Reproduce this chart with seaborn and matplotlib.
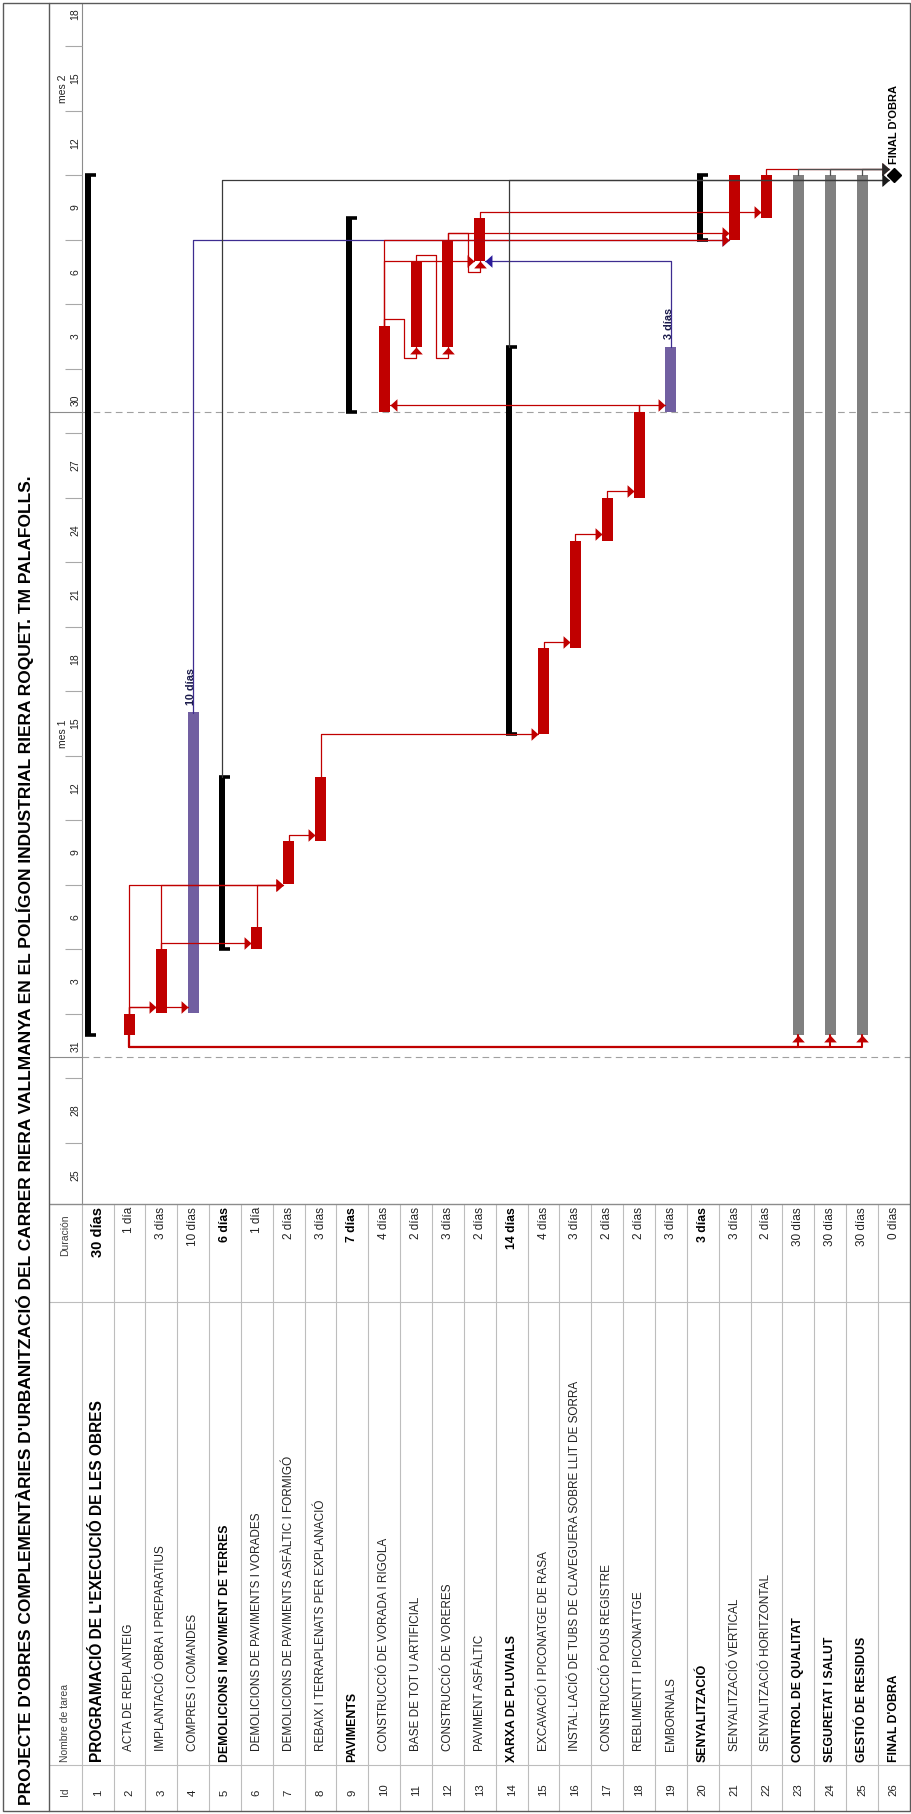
import numpy as np
import matplotlib
matplotlib.use("Agg")
import matplotlib.pyplot as plt
import seaborn as sns
from matplotlib.patches import Rectangle
from matplotlib.lines import Line2D

sns.set_theme(style="white")
plt.rcParams["font.family"] = ["Liberation Sans", "DejaVu Sans"]

# ---------------- data ----------------
TITLE = ("PROJECTE D'OBRES COMPLEMENTÀRIES D'URBANITZACIÓ DEL CARRER RIERA VALLMANYA "
         "EN EL POLÍGON INDUSTRIAL RIERA ROQUET. TM PALAFOLLS.")
ids = list(range(1, 27))
names = [
    "PROGRAMACIÓ DE L'EXECUCIÓ DE LES OBRES", "ACTA DE REPLANTEIG",
    "IMPLANTACIÓ OBRA I PREPARATIUS", "COMPRES I COMANDES",
    "DEMOLICIONS I MOVIMENT DE TERRES", "DEMOLICIONS DE PAVIMENTS I VORADES",
    "DEMOLICIONS DE PAVIMENTS ASFÀLTIC I FORMIGÓ", "REBAIX I TERRAPLENATS PER EXPLANACIÓ",
    "PAVIMENTS", "CONSTRUCCIÓ DE VORADA I RIGOLA", "BASE DE TOT U ARTIFICIAL",
    "CONSTRUCCIÓ DE VORERES", "PAVIMENT ASFÀLTIC", "XARXA DE PLUVIALS",
    "EXCAVACIÓ I PICONATGE DE RASA", "INSTAL·LACIÓ DE TUBS DE CLAVEGUERA SOBRE LLIT DE SORRA",
    "CONSTRUCCIÓ POUS REGISTRE", "REBLIMENTT I PICONATTGE", "EMBORNALS", "SENYALITZACIÓ",
    "SENYALITZACIÓ VERTICAL", "SENYALITZACIÓ HORITZONTAL", "CONTROL DE QUALITAT",
    "SEGURETAT I SALUT", "GESTIÓ DE RESIDUS", "FINAL D'OBRA"]
durations = ["30 días", "1 día", "3 días", "10 días", "6 días", "1 día", "2 días", "3 días",
             "7 días", "4 días", "2 días", "3 días", "2 días", "14 días", "4 días", "3 días",
             "2 días", "2 días", "3 días", "3 días", "3 días", "2 días", "30 días", "30 días",
             "30 días", "0 días"]
name_bold = [1, 0, 0, 0, 1, 0, 0, 0, 1, 0, 0, 0, 0, 1, 0, 0, 0, 0, 0, 1, 0, 0, 1, 1, 1, 1]
dur_bold = [1, 0, 0, 0, 1, 0, 0, 0, 1, 0, 0, 0, 0, 1, 0, 0, 0, 0, 0, 1, 0, 0, 0, 0, 0, 0]
kinds = ["proj", "crit", "crit", "task", "sum", "crit", "crit", "crit", "sum", "crit", "crit",
         "crit", "crit", "sum", "crit", "crit", "crit", "crit", "task", "sum", "crit", "crit",
         "grey", "grey", "grey", "mile"]
# start / finish in calendar days counted from the start of "mes 1"
starts = [1, 1, 2, 2, 5, 5, 8, 10, 30, 30, 33, 33, 37, 15, 15, 19, 24, 26, 30, 38, 38, 39, 1, 1, 1, 41]
ends = [41, 2, 5, 16, 13, 6, 10, 13, 39, 34, 37, 38, 39, 33, 19, 24, 26, 30, 33, 41, 41, 41, 41, 41, 41, 41]

link_pred = [2, 2, 2, 3, 3, 6, 7, 8, 15, 16, 17, 18, 18, 10, 11, 10, 12, 19, 4, 10, 12, 13,
             22, 23, 24, 25, 5, 14, 2, 2, 2]
link_succ = [3, 4, 7, 6, 7, 7, 8, 15, 16, 17, 18, 19, 10, 11, 12, 13, 13, 13, 21, 21, 21, 22,
             26, 26, 26, 26, 26, 26, 23, 24, 25]
link_type = ["FS"] * 28 + ["SS"] * 3

bar_labels = {4: "10 días", 19: "3 días"}
milestone_label = "FINAL D'OBRA"

day_labels = ["25", "28", "31", "3", "6", "9", "12", "15", "18", "21", "24", "27", "30",
              "3", "6", "9", "12", "15", "18"]
month_labels = ["mes 1", "mes 2"]
month_starts = [0, 30]

# ---------------- geometry ----------------
W, H = 912, 1814
ROW_PX = 31.85
ROW1_PX = 81.7
X_LEFT = 49
X_RIGHT = ROW1_PX + 26 * ROW_PX
Y_TOP, Y_SPLIT, Y_BOT = 3, 1204, 1811
T0_PX, DAY_PX = 1056.5, 21.5

fig = plt.figure(figsize=(W / 100, H / 100), dpi=100)


def fig_rect(x0, y0, x1, y1):
    return [x0 / W, 1 - y1 / H, (x1 - x0) / W, (y1 - y0) / H]


xlim = (0.5 - (ROW1_PX - X_LEFT) / ROW_PX, 26.5)
tlim = ((T0_PX - Y_SPLIT) / DAY_PX, (T0_PX - Y_TOP) / DAY_PX)
ax_g = fig.add_axes(fig_rect(X_LEFT, Y_TOP, X_RIGHT, Y_SPLIT))
ax_t = fig.add_axes(fig_rect(X_LEFT, Y_SPLIT, X_RIGHT, Y_BOT))
for ax in (ax_g, ax_t):
    ax.set_axis_off()
    ax.set_xlim(xlim)
ax_g.set_ylim(tlim)
TAB_H = Y_BOT - Y_SPLIT
ax_t.set_ylim(0, TAB_H)

rows = np.array(ids, dtype=float)
s = np.array(starts, dtype=float)
e = np.array(ends, dtype=float)
d = e - s
kinds_a = np.array(kinds)
bar_w = 11 / ROW_PX
sum_w = 6 / ROW_PX
# summary bars sit in the upper (here: left) part of their row
sum_shift = {"sum": 0.0, "proj": 7 / ROW_PX}
row_x = np.array([rows[k] - sum_shift.get(kinds[k], 0.0) for k in range(len(rows))])

# ---------------- gantt bars ----------------
bar_colors = {"crit": "#C00000", "task": "#715FA1", "grey": "#808080"}
for kind, col in bar_colors.items():
    m = kinds_a == kind
    ax_g.bar(rows[m], d[m], bottom=s[m], width=bar_w, color=col, linewidth=0, zorder=3)
m = np.isin(kinds_a, ["sum", "proj"])
ax_g.bar(row_x[m] - sum_w / 2, d[m], bottom=s[m], width=sum_w, color="black", linewidth=0, zorder=3)
ax_g.hlines(np.r_[s[m], e[m]], np.r_[row_x[m], row_x[m]] - sum_w,
            np.r_[row_x[m], row_x[m]] + 5 / ROW_PX, color="black", lw=2.6, zorder=3)
m = kinds_a == "mile"
ax_g.plot(rows[m], s[m], marker="D", ms=7, color="black", ls="none", zorder=6)

# ---------------- links ----------------
ARROWS = {
    "right": [(0, 0), (-0.55, 0.5), (-0.55, -0.5), (0, 0)],
    "left": [(0, 0), (0.55, 0.5), (0.55, -0.5), (0, 0)],
    "up": [(0, 0), (0.5, -0.55), (-0.5, -0.55), (0, 0)],
}
half_w = {"crit": bar_w / 2, "task": bar_w / 2, "grey": bar_w / 2, "mile": 5 / ROW_PX,
          "sum": 0, "proj": 0}
link_col = {"crit": "#C00000", "task": "#3D2C90", "grey": "#505050", "sum": "#3A3A3A"}
arrow_col = {"crit": "#C00000", "task": "#2A1A9A", "grey": "#2A2A2A", "sum": "#1A1A1A"}
DT = 0.3
for p, q, typ in zip(link_pred, link_succ, link_type):
    i, j = p - 1, q - 1
    xp = row_x[i] - (sum_w / 2 if kinds[i] == "sum" else 0)
    xs = rows[j]
    lc, ac = link_col[kinds[i]], arrow_col[kinds[i]]
    lw = 0.9
    if typ == "SS":
        tl = s[i] - 0.55
        px = [xp, xp, xs, xs]
        py = [s[i], tl, tl, s[j]]
        tip, dirn, lw = (xs, s[j]), "up", 1.5
    else:
        te, ts = e[i], s[j]
        if ts >= te:
            ta = max(te + DT, ts - (0.23 if kinds[j] == "mile" else 0.0))
            xe = xs - half_w[kinds[j]] if xs > xp else xs + half_w[kinds[j]]
            dirn = "right" if xs > xp else "left"
            px = [xp, xp, xe]
            py = [te, ta, ta]
            tip = (xe, ta)
        else:
            tu = te + DT
            xm = xs - 0.37
            tl = ts - 0.5
            px = [xp, xp, xm, xm, xs, xs]
            py = [te, tu, tu, tl, tl, ts]
            tip, dirn = (xs, ts), "up"
    ax_g.plot(px, py, color=lc, lw=lw, zorder=4, solid_joinstyle="round")
    ax_g.plot([tip[0]], [tip[1]], marker=ARROWS[dirn], ms=10, color=ac, mew=0, ls="none", zorder=5)

# ---------------- bar labels ----------------
for r, lab in bar_labels.items():
    ax_g.text(r - 0.06, e[r - 1] + 0.35, lab, rotation=90, ha="center", va="bottom",
              fontsize=7.8, fontweight="bold", color="#1A1A4A", zorder=6)
im = int(np.where(kinds_a == "mile")[0][0])
ax_g.text(rows[im], s[im] + 0.5, milestone_label, rotation=90, ha="center", va="bottom",
          fontsize=8, fontweight="bold", color="black", zorder=6)

# ---------------- timescale ----------------
LINE = "#8C8C8C"
ax_g.axvline(0.5, color=LINE, lw=0.8, zorder=1)
ax_g.hlines(month_starts, 0.5, 26.5, colors="#A0A0A0", lw=0.8, linestyles=(0, (6, 4)), zorder=1)
ax_g.hlines(month_starts, xlim[0], 0.5, colors=LINE, lw=0.8, zorder=1)
block_starts = -7 + 3 * np.arange(len(day_labels))
ax_g.hlines(block_starts, -0.02, 0.5, colors="#A8A8A8", lw=0.8, zorder=1)
for b, lab in zip(block_starts, day_labels):
    ax_g.text(0.3, b + 1.5, lab, rotation=90, ha="center", va="center", fontsize=7.5, color="#222222")
for mstart, lab in zip(month_starts, month_labels):
    ax_g.text(-0.1, mstart + 15, lab, rotation=90, ha="center", va="center", fontsize=7.5, color="#222222")

# ---------------- table ----------------
TL = "#BDBDBD"
ax_t.vlines(np.arange(0.5, 26.5, 1), 0, TAB_H, colors=TL, lw=0.8)
C_ID, C_NAME, C_DUR = 46, 509, TAB_H
ax_t.hlines([C_ID, C_NAME], xlim[0], 26.5, colors=TL, lw=0.8)
ax_t.hlines([C_DUR], xlim[0], 26.5, colors="#8C8C8C", lw=1.0, clip_on=False)
xh = (xlim[0] + 0.5) / 2
for txt, c, va in (("Id", 15, "bottom"), ("Nombre de tarea", 49, "bottom"), ("Duración", TAB_H - 11, "top")):
    ax_t.text(xh, c, txt, rotation=90, ha="center", va=va, fontsize=7.5, color="#404040")
for k in range(26):
    r = rows[k]
    big = k == 0
    ax_t.text(r, 15, str(ids[k]), rotation=90, ha="center", va="bottom", fontsize=8.2, color="#222222")
    nb = name_bold[k] == 1
    ax_t.text(r, 49 if nb else 60, names[k], rotation=90, ha="center", va="bottom",
              fontsize=11.2 if big else (8.8 if nb else 8.5), fontweight="bold" if nb else "normal",
              color="black" if nb else "#222222")
    db = dur_bold[k] == 1
    ax_t.text(r, TAB_H - 3, durations[k], rotation=90, ha="center", va="top",
              fontsize=10.5 if big else (8.8 if db else 8.5), fontweight="bold" if db else "normal",
              color="black" if db else "#222222")

# ---------------- frame & title ----------------
fig.add_artist(Rectangle((3 / W, 3 / H), (X_RIGHT - 3) / W, (H - 6) / H, transform=fig.transFigure,
                         fill=False, ec="#5A5A5A", lw=1.0))
fig.add_artist(Line2D([X_LEFT / W, X_LEFT / W], [3 / H, 1 - 3 / H], transform=fig.transFigure,
                      color="#5A5A5A", lw=1.0))
fig.text(25 / W, 1 - 1805 / H, TITLE, rotation=90, ha="center", va="bottom",
         fontsize=12.5, fontweight="bold", color="black")

fig.savefig("out.png", dpi=100)
